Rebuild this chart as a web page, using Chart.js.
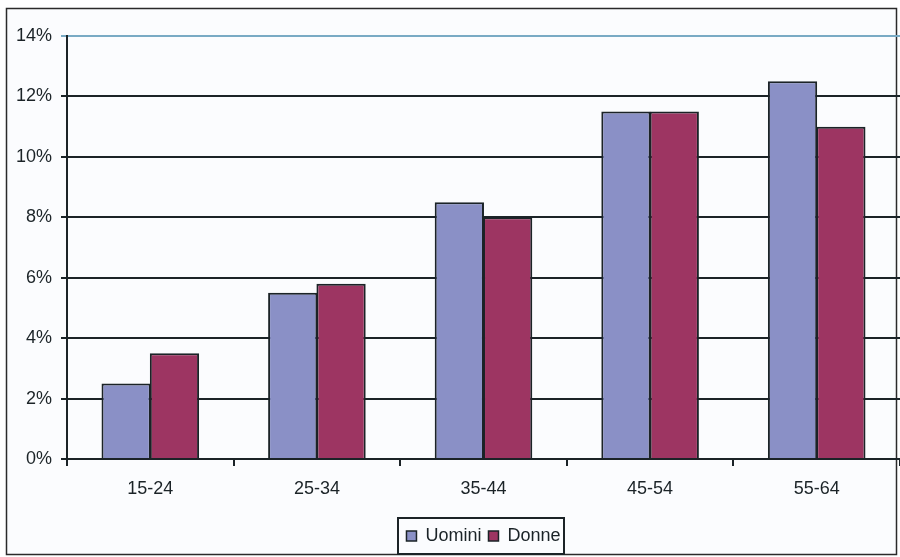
<!DOCTYPE html>
<html>
<head>
<meta charset="utf-8">
<script src="https://cdn.jsdelivr.net/npm/chart.js@4/dist/chart.umd.min.js"></script>
<style>
  html, body { margin: 0; padding: 0; background: #ffffff; }
  #wrap { width: 900px; height: 557px; position: relative; }
</style>
</head>
<body>
<div id="wrap"><canvas id="c" width="900" height="557"></canvas></div>
<script>
// Age bands and share per sex (percent)
const categories = ['15-24', '25-34', '35-44', '45-54', '55-64'];
const uomini = [2.5, 5.5, 8.5, 11.5, 12.5];
const donne = [3.5, 5.8, 8.0, 11.5, 11.0];
const seriesNames = ['Uomini', 'Donne'];

const FONT = 'Liberation Sans, Arial, sans-serif';
const INK = '#1b2327';

// Page frame, legend centred under the plot, legend outline
const framePlugin = {
  id: 'frame',
  afterLayout(chart) {
    const lg = chart.legend;
    if (lg) lg.left = chart.chartArea.left;
  },
  beforeDraw(chart) {
    const ctx = chart.ctx;
    ctx.save();
    ctx.fillStyle = '#fbfcfe';
    ctx.fillRect(6, 8, 891, 547);
    ctx.strokeStyle = '#2a2a2a';
    ctx.lineWidth = 1.5;
    ctx.strokeRect(6.5, 8.5, 890, 546);
    ctx.restore();
  },
  afterDraw(chart) {
    const lg = chart.legend;
    if (!lg || !lg.legendHitBoxes || !lg.legendHitBoxes.length) return;
    const boxes = lg.legendHitBoxes;
    let x0 = Infinity, x1 = -Infinity, y0 = Infinity, y1 = -Infinity;
    boxes.forEach(b => {
      x0 = Math.min(x0, b.left); x1 = Math.max(x1, b.left + b.width);
      y0 = Math.min(y0, b.top); y1 = Math.max(y1, b.top + b.height);
    });
    const cy = (y0 + y1) / 2;
    const ctx = chart.ctx;
    ctx.save();
    ctx.strokeStyle = INK;
    ctx.lineWidth = 2;
    ctx.strokeRect(Math.round(x0) - 8, Math.round(cy) - 18, Math.round(x1 - x0) + 12, 36);
    ctx.restore();
  }
};

new Chart(document.getElementById('c'), {
  type: 'bar',
  data: {
    labels: categories,
    datasets: [
      { label: seriesNames[0], data: uomini, backgroundColor: '#8a90c6', borderColor: INK, borderWidth: 2 },
      { label: seriesNames[1], data: donne, backgroundColor: '#9d3562', borderColor: INK, borderWidth: 2 }
    ]
  },
  options: {
    responsive: false,
    animation: false,
    devicePixelRatio: 1,
    datasets: { bar: { categoryPercentage: 0.58, barPercentage: 1.02 } },
    layout: { padding: { left: 0, right: 0, top: 36, bottom: 2 } },
    plugins: {
      legend: {
        display: true,
        position: 'bottom',
        labels: {
          font: { family: FONT, size: 18 },
          color: INK,
          boxWidth: 10,
          boxHeight: 10,
          padding: 7,
          generateLabels(chart) {
            return chart.data.datasets.map((d, i) => ({
              text: d.label,
              fillStyle: d.backgroundColor,
              strokeStyle: INK,
              lineWidth: 1.5,
              fontColor: INK,
              datasetIndex: i,
              hidden: false
            }));
          }
        }
      },
      tooltip: { enabled: false }
    },
    scales: {
      x: {
        grid: {
          display: true,
          offset: true,
          drawOnChartArea: false,
          drawTicks: true,
          tickLength: 7,
          color: INK,
          lineWidth: 2
        },
        border: { display: true, color: INK, width: 2 },
        ticks: { font: { family: FONT, size: 18 }, color: INK, padding: 12 },
        afterFit(scale) { scale.height = 61; }
      },
      y: {
        min: 0,
        max: 14,
        ticks: {
          stepSize: 2,
          font: { family: FONT, size: 18 },
          color: INK,
          padding: 9,
          callback: v => v + '%'
        },
        grid: {
          drawTicks: true,
          tickLength: 6,
          lineWidth: 2,
          color: c => (c.tick && c.tick.value === 14) ? '#79aac4' : INK
        },
        border: { display: true, color: INK, width: 2 },
        afterFit(scale) { scale.width = 67; }
      }
    }
  },
  plugins: [framePlugin]
});
</script>
</body>
</html>
